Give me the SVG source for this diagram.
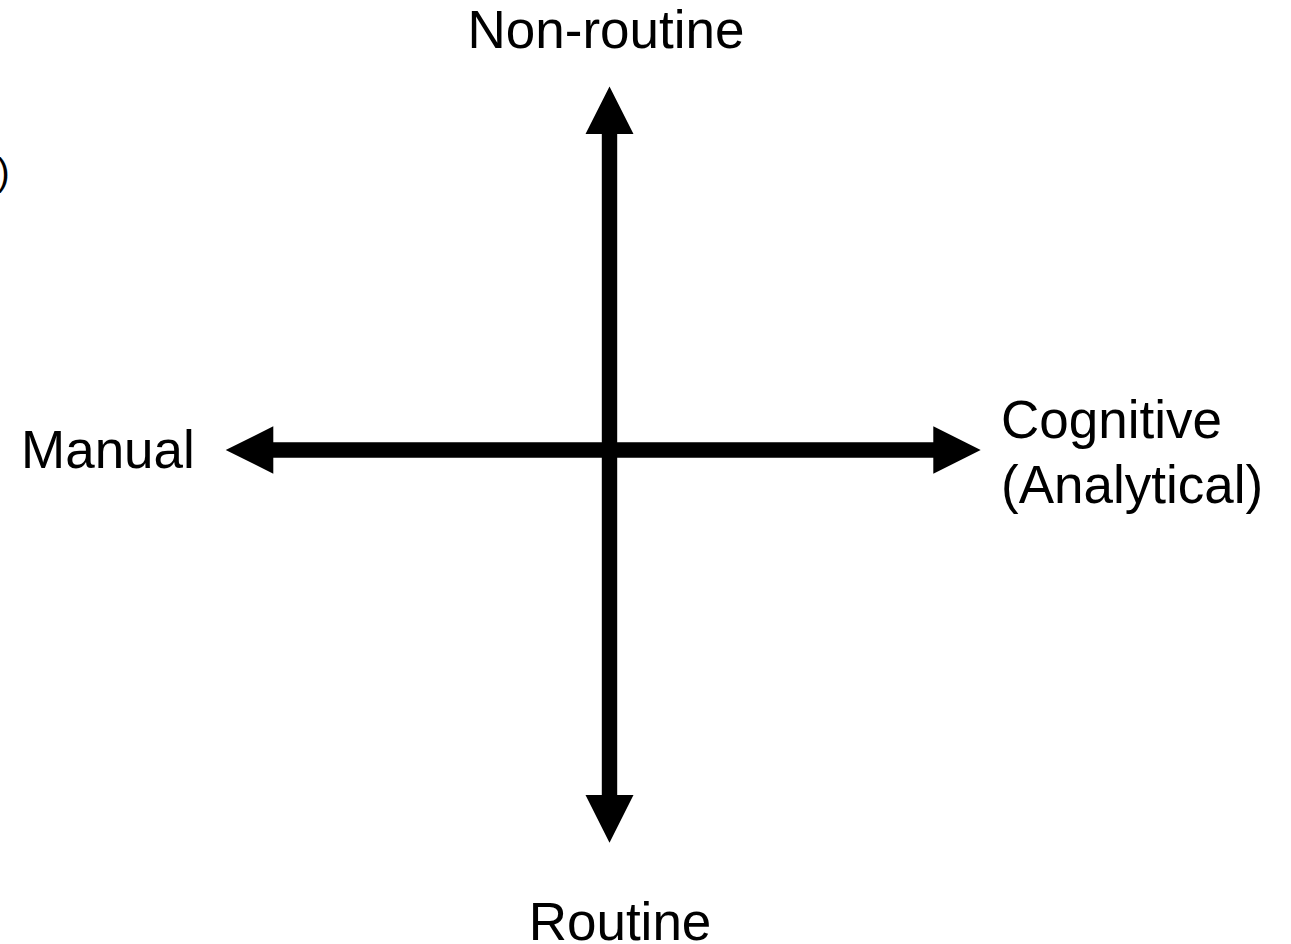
<svg xmlns="http://www.w3.org/2000/svg" width="1291" height="944" viewBox="0 0 1291 944">
<style>
.lbl{font-family:"Liberation Sans",Arial,sans-serif;font-size:53px;fill:#000}
.ax{fill:#000}
</style>
<rect width="1291" height="944" fill="#fff"/>
<g id="connectors">
<polygon class="ax" points="601.8,134 585.5,134 609.5,86.5 633.5,134 617.2,134 617.2,795 633.5,795 609.5,842.7 585.5,795 601.8,795"/>
<polygon class="ax" points="273.3,442.3 273.3,426.3 225.7,450 273.3,473.7 273.3,457.7 933.3,457.7 933.3,473.7 980.7,450 933.3,426.3 933.3,442.3"/>
</g>
<g id="node-nonroutine"><text class="lbl" x="606" y="47.7" text-anchor="middle">Non-routine</text></g>
<g id="node-routine"><text class="lbl" x="620" y="940" text-anchor="middle">Routine</text></g>
<g id="node-manual"><text class="lbl" x="21" y="468">Manual</text></g>
<g id="node-cognitive"><text class="lbl" x="1001" y="438">Cognitive</text><text class="lbl" x="1001" y="503">(Analytical)</text></g>
<g id="node-cut"><text class="lbl" x="9.6" y="185" text-anchor="end" style="font-size:38px">)</text></g>
</svg>
